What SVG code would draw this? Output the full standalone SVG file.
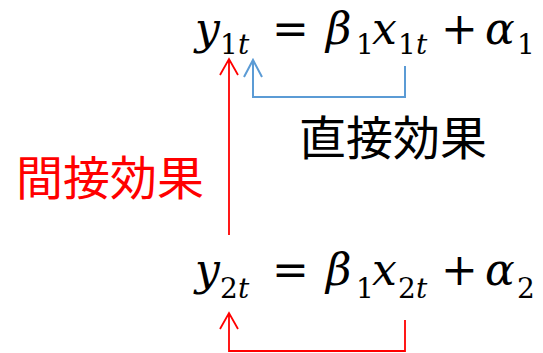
<svg xmlns="http://www.w3.org/2000/svg" width="543" height="353" viewBox="0 0 543 353">
<style>
.m{font-family:"DejaVu Serif","Liberation Serif",serif;font-style:italic;font-size:44px;fill:#000}
.s{font-family:"DejaVu Serif","Liberation Serif",serif;font-size:28px;fill:#000}
.si{font-family:"DejaVu Serif","Liberation Serif",serif;font-style:italic;font-size:28px;fill:#000}
.o{font-family:"DejaVu Serif","Liberation Serif",serif;font-size:44px;fill:#000}
.j{font-family:"Noto Sans CJK JP","Noto Sans",sans-serif;font-size:47px}
.r{stroke:#FF0000;stroke-width:1.8;fill:none}
.b{stroke:#5B9BD5;stroke-width:2;fill:none}
</style>
<g id="eq1">
<text class="m" x="195" y="44">y</text>
<text class="s" x="220" y="54">1</text><text class="si" x="238" y="54">t</text>
<text class="o" x="272" y="44">=</text>
<text class="m" x="326" y="44">β</text>
<text class="s" x="356" y="54">1</text>
<text class="m" x="372" y="44">x</text>
<text class="s" x="398" y="54">1</text><text class="si" x="416" y="54">t</text>
<text class="o" x="441" y="44">+</text>
<text class="m" x="485" y="44">α</text>
<text class="s" x="517" y="54">1</text>
</g>
<g id="eq2">
<text class="m" x="195" y="285">y</text>
<text class="s" x="220" y="298">2</text><text class="si" x="238" y="298">t</text>
<text class="o" x="272" y="285">=</text>
<text class="m" x="326" y="285">β</text>
<text class="s" x="356" y="298">1</text>
<text class="m" x="372" y="285">x</text>
<text class="s" x="398" y="298">2</text><text class="si" x="416" y="298">t</text>
<text class="o" x="441" y="285">+</text>
<text class="m" x="485" y="285">α</text>
<text class="s" x="517" y="298">2</text>
</g>
<g id="label-direct"><text class="j" x="299" y="155" fill="#000">直接効果</text></g>
<g id="label-indirect"><text class="j" x="16" y="195" fill="#FF0000" font-size="49">間接効果</text></g>
<g id="connectors">
<path class="r" d="M229 235V59M220 75L229 59L238 75"/>
<path class="b" d="M405 66V97H253V60M244 77L253 60L262 77"/>
<path class="r" d="M405 320V351H229V313M220 329L229 313L238 329"/>
</g>
</svg>
